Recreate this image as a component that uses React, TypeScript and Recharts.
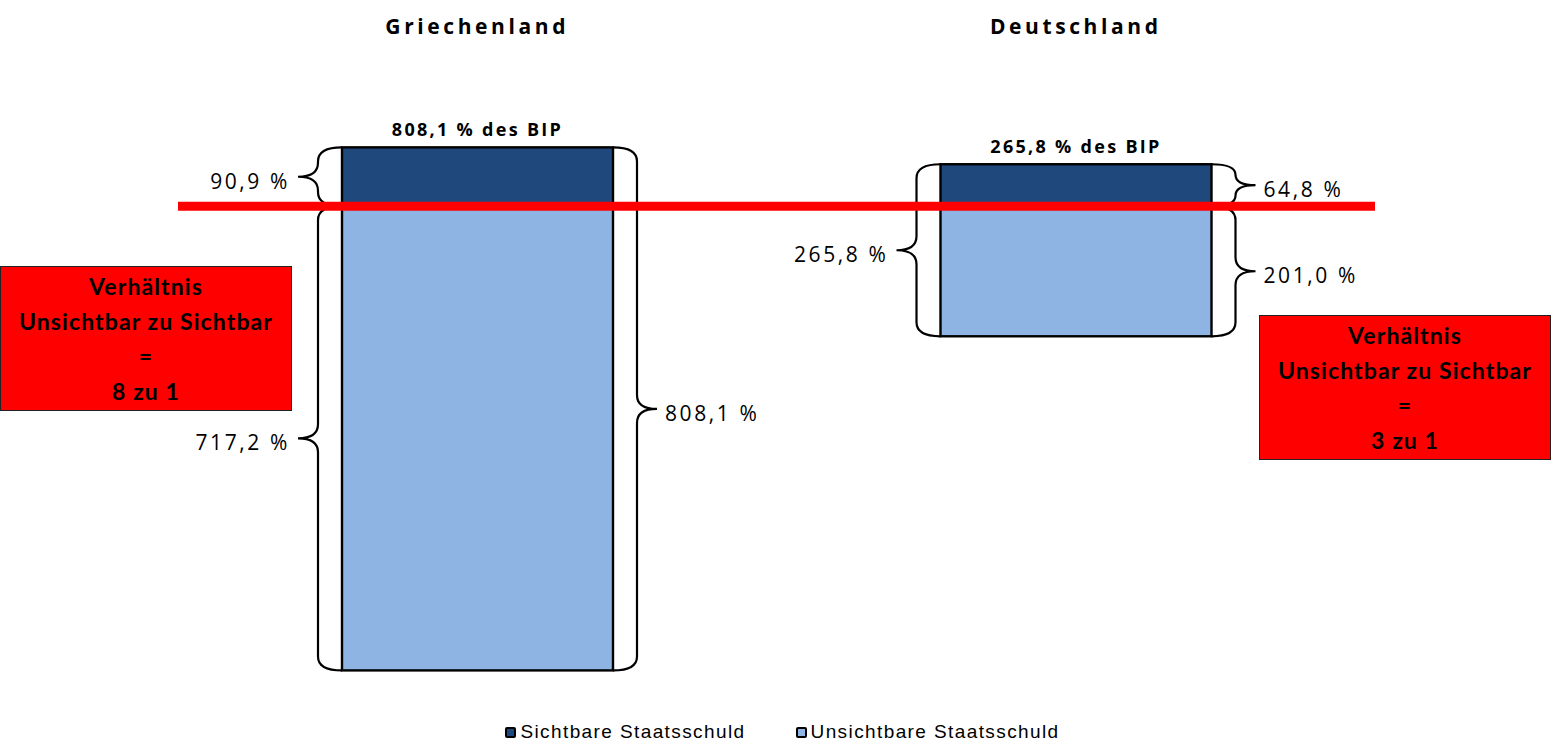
import React from 'react';
import { BarChart, Bar, XAxis, YAxis, ReferenceLine, Legend } from 'recharts';

const countries = ['Griechenland', 'Deutschland'];
const sichtbar = [90.9, 64.8];
const unsichtbar = [717.2, 201.0];
const gesamt = [808.1, 265.8];
const verhaeltnis = ['8 zu 1', '3 zu 1'];
// on which side of the bar the split braces (visible/invisible) sit
const splitSide: ('left' | 'right')[] = ['left', 'right'];

const DARK = '#1F497D';
const LIGHT = '#8EB4E3';
const LABEL_FONT = '"Open Sans", sans-serif';

const fmt = (v: number) => `${v.toFixed(1).replace('.', ',')} %`;

const data = countries.map((name, i) => ({
  name,
  sichtbar: sichtbar[i],
  unsichtbar: -unsichtbar[i],
  gesamt: gesamt[i],
  side: splitSide[i],
}));

// curly brace between y1 and y2, attached at x0, pointing away from the bar
const Brace = ({ x0, y1, y2, side, label }: { x0: number; y1: number; y2: number; side: 'left' | 'right'; label: string }) => {
  const dir = side === 'left' ? -1 : 1;
  const body = x0 + dir * 24;
  const tip = x0 + dir * 44;
  const ym = (y1 + y2) / 2;
  const r = Math.min(14, (y2 - y1) / 4);
  const d = [
    `M${x0},${y1}`,
    `Q${body},${y1} ${body},${y1 + r}`,
    `L${body},${ym - r}`,
    `Q${body},${ym} ${tip},${ym}`,
    `Q${body},${ym} ${body},${ym + r}`,
    `L${body},${y2 - r}`,
    `Q${body},${y2} ${x0},${y2}`,
  ].join(' ');
  return (
    <g>
      <path d={d} fill="none" stroke="#000" strokeWidth={2.2} />
      <text
        x={tip + dir * 8}
        y={ym + 4}
        textAnchor={side === 'left' ? 'end' : 'start'}
        dominantBaseline="central"
        fontFamily={LABEL_FONT}
        fontSize={21}
        letterSpacing={2.6}
        fill="#000"
      >
        {label}
      </text>
    </g>
  );
};

const SichtbarShape = (props: any) => {
  const { x, y, width, height, payload } = props;
  const top = Math.min(y, y + height);
  const h = Math.abs(height);
  const pxPerUnit = h / payload.sichtbar;
  const bottom = top + h + Math.abs(payload.unsichtbar) * pxPerUnit;
  const side = payload.side as 'left' | 'right';
  const other = side === 'left' ? 'right' : 'left';
  return (
    <g>
      <rect x={x} y={top} width={width} height={h} fill={DARK} stroke="#000" strokeWidth={2.4} />
      <Brace x0={side === 'left' ? x : x + width} y1={top} y2={top + h} side={side} label={fmt(payload.sichtbar)} />
      <Brace x0={other === 'left' ? x : x + width} y1={top} y2={bottom} side={other} label={fmt(payload.gesamt)} />
      <text
        x={x + width / 2}
        y={top - 11}
        textAnchor="middle"
        fontFamily={LABEL_FONT}
        fontWeight="bold"
        fontSize={18}
        letterSpacing={2.3}
        fill="#000"
      >
        {`${fmt(payload.gesamt)} des BIP`}
      </text>
    </g>
  );
};

const UnsichtbarShape = (props: any) => {
  const { x, y, width, height, payload } = props;
  const top = Math.min(y, y + height);
  const h = Math.abs(height);
  const side = payload.side as 'left' | 'right';
  return (
    <g>
      <rect x={x} y={top} width={width} height={h} fill={LIGHT} stroke="#000" strokeWidth={2.4} />
      <Brace x0={side === 'left' ? x : x + width} y1={top} y2={top + h} side={side} label={fmt(Math.abs(payload.unsichtbar))} />
    </g>
  );
};

const TitleTick = (props: any) => {
  const { x, payload } = props;
  return (
    <text x={x} y={34} textAnchor="middle" fontFamily={LABEL_FONT} fontWeight="bold" fontSize={21} letterSpacing={3.6} fill="#000">
      {payload.value}
    </text>
  );
};

const LegendContent = () => {
  const items = [
    { label: 'Sichtbare Staatsschuld', color: DARK },
    { label: 'Unsichtbare Staatsschuld', color: LIGHT },
  ];
  return (
    <div style={{ display: 'flex', justifyContent: 'center', gap: 50, paddingLeft: 14, fontFamily: '"Liberation Sans", Arial, sans-serif', fontSize: 19, letterSpacing: 1.4, color: '#000' }}>
      {items.map((it) => (
        <div key={it.label} style={{ display: 'flex', alignItems: 'center' }}>
          <span style={{ display: 'inline-block', width: 7, height: 7, background: it.color, border: '2px solid #000', borderRadius: 2, marginRight: 4 }} />
          <span>{it.label}</span>
        </div>
      ))}
    </div>
  );
};

const RatioBox = ({ left, top, text }: { left: number; top: number; text: string }) => (
  <div
    style={{
      position: 'absolute',
      left,
      top,
      width: 292,
      height: 145,
      boxSizing: 'border-box',
      background: '#FF0000',
      border: '1.5px solid #222',
      display: 'flex',
      flexDirection: 'column',
      justifyContent: 'center',
      alignItems: 'center',
      fontFamily: 'Lato, sans-serif',
      fontWeight: 'bold',
      fontSize: 23,
      letterSpacing: 1.1,
      lineHeight: '35px',
      color: '#000',
      textAlign: 'center',
    }}
  >
    <div>Verhältnis</div>
    <div>Unsichtbar zu Sichtbar</div>
    <div>=</div>
    <div>{text}</div>
  </div>
);

export default function App() {
  return (
    <div style={{ position: 'absolute', left: 0, top: 0, width: 1551, height: 742, background: '#fff' }}>
      <BarChart
        width={1551}
        height={742}
        data={data}
        stackOffset="sign"
        barSize={271}
        margin={{ top: 0, right: 176, bottom: 18, left: 178 }}
      >
        <XAxis dataKey="name" orientation="top" height={12} axisLine={false} tickLine={false} tick={<TitleTick />} interval={0} />
        <YAxis hide domain={[-800, 300]} allowDataOverflow />
        <Bar dataKey="sichtbar" name="Sichtbare Staatsschuld" stackId="a" fill={DARK} shape={<SichtbarShape />} isAnimationActive={false} />
        <Bar dataKey="unsichtbar" name="Unsichtbare Staatsschuld" stackId="a" fill={LIGHT} shape={<UnsichtbarShape />} isAnimationActive={false} />
        <ReferenceLine y={0} stroke="#FF0000" strokeWidth={9} />
        <Legend
          layout="horizontal"
          verticalAlign="middle"
          align="center"
          content={<LegendContent />}
          wrapperStyle={{ top: 721, left: 0, width: 1551 }}
        />
      </BarChart>
      <RatioBox left={0} top={266} text={verhaeltnis[0]} />
      <RatioBox left={1259} top={315} text={verhaeltnis[1]} />
    </div>
  );
}
